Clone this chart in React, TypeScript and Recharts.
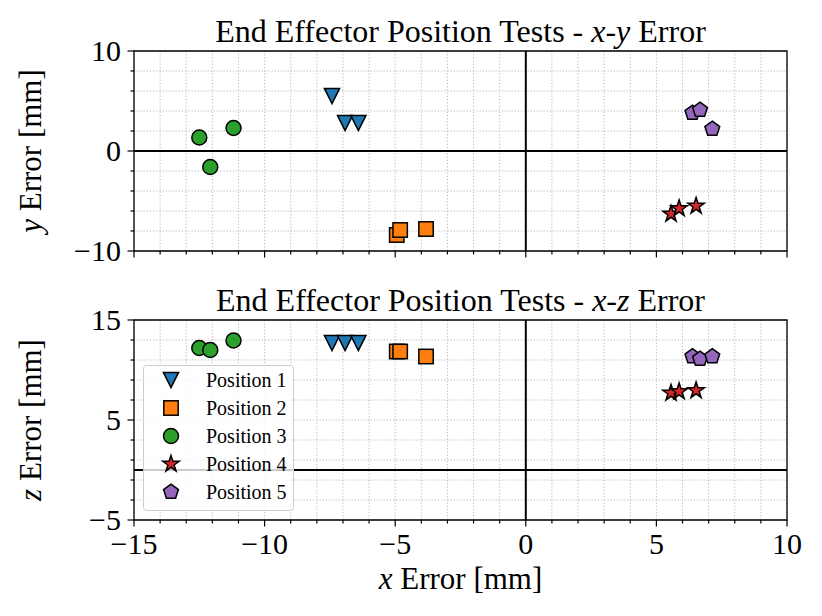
import React from "react";
import {
  ScatterChart,
  Scatter,
  XAxis,
  YAxis,
  CartesianGrid,
  ReferenceLine,
  ReferenceArea,
  Legend,
} from "recharts";

const serif = "'Liberation Serif', 'DejaVu Serif', serif";

const positionNames = ["Position 1", "Position 2", "Position 3", "Position 4", "Position 5"];
const positionColors = ["#1f77b4", "#ff7f0e", "#2ca02c", "#d62728", "#9467bd"];
const positionMarkers = ["triangleDown", "square", "circle", "star", "pentagon"];

// errors in mm, three runs per position
const pos1X = [-7.42, -6.92, -6.41];
const pos1Y = [5.5, 2.8, 2.8];
const pos1Z = [12.7, 12.7, 12.7];
const pos2X = [-4.94, -4.81, -3.82];
const pos2Y = [-8.4, -7.9, -7.8];
const pos2Z = [11.85, 11.85, 11.35];
const pos3X = [-12.5, -11.19, -12.08];
const pos3Y = [1.35, 2.3, -1.6];
const pos3Z = [12.2, 12.95, 12.0];
const pos4X = [5.56, 5.87, 6.52];
const pos4Y = [-6.3, -5.75, -5.5];
const pos4Z = [7.7, 7.85, 7.95];
const pos5X = [6.38, 6.67, 7.14];
const pos5Y = [3.8, 4.1, 2.2];
const pos5Z = [11.35, 11.1, 11.35];

const xTicks = [-15, -14, -13, -12, -11, -10, -9, -8, -7, -6, -5, -4, -3, -2, -1, 0, 1, 2, 3, 4, 5, 6, 7, 8, 9, 10];
const xMajorTicks = [-15, -10, -5, 0, 5, 10];
const yTicks = [-10, -8, -6, -4, -2, 0, 2, 4, 6, 8, 10];
const yMajorTicks = [-10, 0, 10];
const zTicks = [-5, -3, -1, 1, 3, 5, 7, 9, 11, 13, 15];
const zMajorTicks = [-5, 5, 15];

const xs = [pos1X, pos2X, pos3X, pos4X, pos5X];
const ys = [pos1Y, pos2Y, pos3Y, pos4Y, pos5Y];
const zs = [pos1Z, pos2Z, pos3Z, pos4Z, pos5Z];

const topSeries = xs.map((px, i) => px.map((x, j) => ({ x, y: ys[i][j] })));
const bottomSeries = xs.map((px, i) => px.map((x, j) => ({ x, y: zs[i][j] })));

const fmt = (v: number) => (v < 0 ? `\u2212${Math.abs(v)}` : `${v}`);

function starPoints(cx: number, cy: number, r: number, n: number, inner: number) {
  const pts: string[] = [];
  const count = inner > 0 ? n * 2 : n;
  for (let k = 0; k < count; k++) {
    const rr = inner > 0 && k % 2 === 1 ? r * inner : r;
    const a = -Math.PI / 2 + (k * 2 * Math.PI) / count;
    pts.push(`${cx + rr * Math.cos(a)},${cy + rr * Math.sin(a)}`);
  }
  return pts.join(" ");
}

function Marker({ kind, cx, cy, color }: { kind: string; cx: number; cy: number; color: string }) {
  const st = { fill: color, stroke: "#000", strokeWidth: 1.5 };
  if (kind === "triangleDown") {
    const h = 7.6;
    return <polygon points={`${cx - h},${cy - h} ${cx + h},${cy - h} ${cx},${cy + h}`} {...st} />;
  }
  if (kind === "square") return <rect x={cx - 7.2} y={cy - 7.2} width={14.4} height={14.4} {...st} />;
  if (kind === "circle") return <circle cx={cx} cy={cy} r={7.5} {...st} />;
  if (kind === "star") return <polygon points={starPoints(cx, cy, 8.6, 5, 0.382)} {...st} />;
  return <polygon points={starPoints(cx, cy, 7.8, 5, 0)} {...st} />;
}

function XTick(props: any) {
  const { x, y, payload, labels } = props;
  const major = xMajorTicks.includes(payload.value);
  return (
    <g>
      <line x1={x} x2={x} y1={y} y2={y + (major ? 6.5 : 3.5)} stroke="#000" strokeWidth={1.2} />
      {major && labels && (
        <text x={x} y={y + 33.5} textAnchor="middle" fontSize={30} fontFamily={serif} fill="#000">
          {fmt(payload.value)}
        </text>
      )}
    </g>
  );
}

function YTick(props: any) {
  const { x, y, payload, majors } = props;
  const major = majors.includes(payload.value);
  return (
    <g>
      <line x1={x} x2={x - (major ? 6.5 : 3.5)} y1={y} y2={y} stroke="#000" strokeWidth={1.2} />
      {major && (
        <text x={x - 13} y={y} dy="0.34em" textAnchor="end" fontSize={30} fontFamily={serif} fill="#000">
          {fmt(payload.value)}
        </text>
      )}
    </g>
  );
}

function LegendBox() {
  return (
    <svg width={151} height={146}>
      <rect x={0.5} y={0.5} width={150} height={145} rx={3} fill="#fff" fillOpacity={0.8} stroke="#cccccc" />
      {positionNames.map((name, i) => (
        <g key={name}>
          <Marker kind={positionMarkers[i]} cx={28} cy={15 + i * 28} color={positionColors[i]} />
          <text x={63} y={15 + i * 28 + 7} fontSize={20} fontFamily={serif} fill="#000">
            {name}
          </text>
        </g>
      ))}
    </svg>
  );
}

function Panel({ series, yDomain, yTickList, yMajors, bottom }: any) {
  const height = bottom ? 346 : 270;
  return (
    <ScatterChart
      width={822}
      height={height}
      margin={{ top: bottom ? 50 : 51, right: 35, bottom: 0, left: 0 }}
    >
      <CartesianGrid stroke="#b0b0b0" strokeDasharray="1.2 2" strokeWidth={0.9} />
      <XAxis
        type="number"
        dataKey="x"
        domain={[-15, 10]}
        ticks={xTicks}
        interval={0}
        height={bottom ? 96 : 19}
        axisLine={false}
        tickLine={false}
        tickSize={0}
        tickMargin={0}
        tick={(p: any) => <XTick {...p} labels={bottom} />}
      />
      <YAxis
        type="number"
        dataKey="y"
        domain={yDomain}
        ticks={yTickList}
        interval={0}
        width={134}
        axisLine={false}
        tickLine={false}
        tickSize={0}
        tickMargin={0}
        tick={(p: any) => <YTick {...p} majors={yMajors} />}
      />
      <ReferenceLine x={0} stroke="#000" strokeWidth={2} />
      <ReferenceLine y={0} stroke="#000" strokeWidth={2} />
      <ReferenceArea x1={-15} x2={10} y1={yDomain[0]} y2={yDomain[1]} fill="none" stroke="#000" strokeWidth={1.3} fillOpacity={0} />
      {series.map((data: any[], i: number) => (
        <Scatter
          key={positionNames[i]}
          name={positionNames[i]}
          data={data}
          isAnimationActive={false}
          shape={(p: any) => <Marker kind={positionMarkers[i]} cx={p.cx} cy={p.cy} color={positionColors[i]} />}
        />
      ))}
      {bottom && (
        <Legend
          layout="vertical"
          align="center"
          verticalAlign="middle"
          wrapperStyle={{ left: 143, top: 95, width: 151, height: 146 }}
          content={() => <LegendBox />}
        />
      )}
    </ScatterChart>
  );
}

export default function App() {
  return (
    <div style={{ position: "absolute", left: 0, top: 0, width: 822, height: 616, background: "#fff" }}>
      <div style={{ position: "absolute", left: 0, top: 0 }}>
        <Panel series={topSeries} yDomain={[-10, 10]} yTickList={yTicks} yMajors={yMajorTicks} bottom={false} />
      </div>
      <div style={{ position: "absolute", left: 0, top: 270 }}>
        <Panel series={bottomSeries} yDomain={[-5, 15]} yTickList={zTicks} yMajors={zMajorTicks} bottom={true} />
      </div>
      <svg
        width={822}
        height={616}
        style={{ position: "absolute", left: 0, top: 0, pointerEvents: "none" }}
        fontFamily={serif}
      >
        <text x={460.5} y={42} textAnchor="middle" fontSize={32} fill="#000">
          End Effector Position Tests - <tspan fontStyle="italic">x</tspan>-<tspan fontStyle="italic">y</tspan> Error
        </text>
        <text x={460.5} y={311} textAnchor="middle" fontSize={32} fill="#000">
          End Effector Position Tests - <tspan fontStyle="italic">x</tspan>-<tspan fontStyle="italic">z</tspan> Error
        </text>
        <text x={41} y={151} transform="rotate(-90 41 151)" textAnchor="middle" fontSize={31} fill="#000">
          <tspan fontStyle="italic">y</tspan> Error [mm]
        </text>
        <text x={41} y={420} transform="rotate(-90 41 420)" textAnchor="middle" fontSize={31} fill="#000">
          <tspan fontStyle="italic">z</tspan> Error [mm]
        </text>
        <text x={460.5} y={589} textAnchor="middle" fontSize={31} fill="#000">
          <tspan fontStyle="italic">x</tspan> Error [mm]
        </text>
      </svg>
    </div>
  );
}
